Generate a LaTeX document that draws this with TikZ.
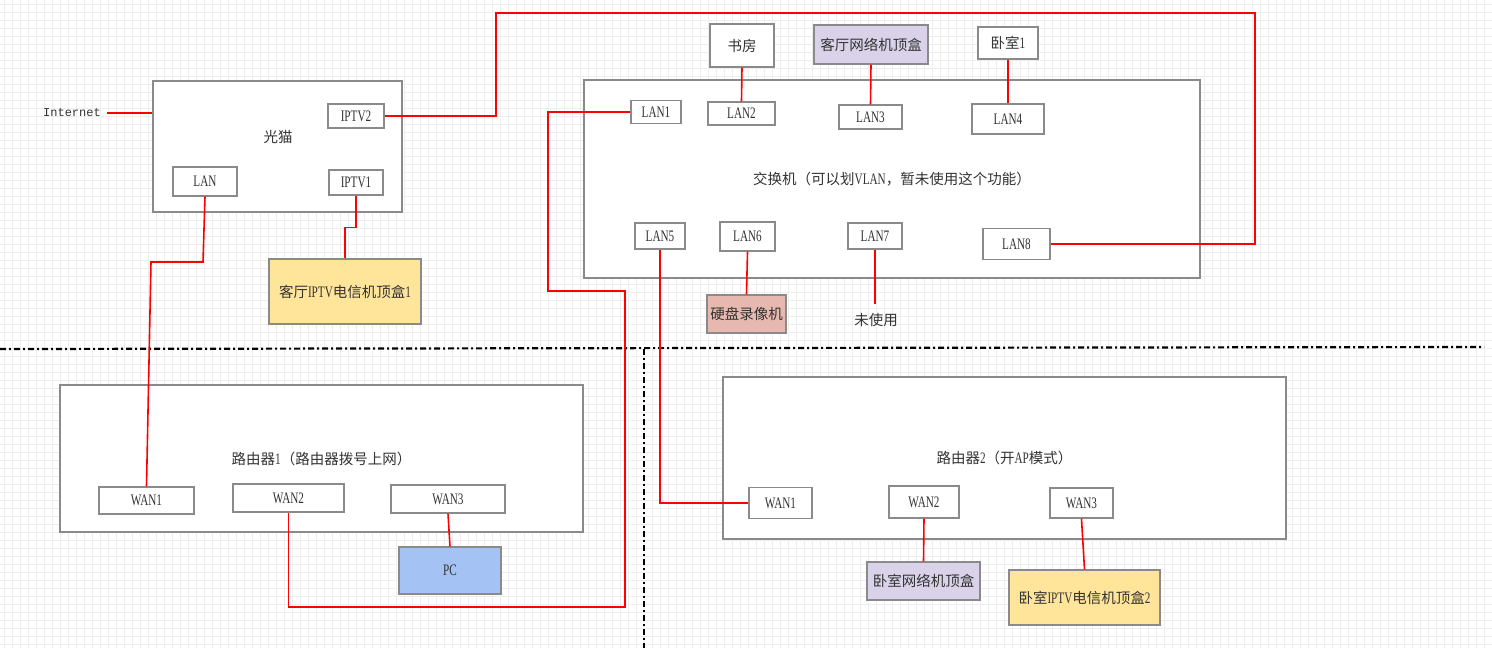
\documentclass[tikz,border=0pt]{standalone}
\usepackage{fontspec}
\setmainfont{Liberation Serif}
\newfontfamily\cjk{Noto Sans CJK SC}
\newfontfamily\latc[FakeStretch=0.7]{Liberation Serif}
\newfontfamily\monof{Liberation Mono}
\newcommand\zh[1]{{\fontsize{14.5}{17}\selectfont\cjk #1}}
\definecolor{boxgray}{HTML}{8A8A8A}
\definecolor{txt}{HTML}{333333}
\definecolor{wirered}{HTML}{FF0000}
\definecolor{ylw}{HTML}{FFE599}
\definecolor{lav}{HTML}{D9D2E9}
\definecolor{pnk}{HTML}{E6B8AF}
\definecolor{blu}{HTML}{A4C2F4}
\definecolor{gridc}{HTML}{EEEEEE}
\begin{document}
\begin{tikzpicture}[x=1pt,y=-1pt,
  box/.style={draw=boxgray, line width=1.3pt, fill=white, inner sep=0pt, text=txt,
    font=\fontsize{16}{18}\selectfont\latc},
  dev/.style 2 args={box, minimum width=#1pt, minimum height=#2pt},
  lbl/.style={inner sep=0pt, text=txt, font=\fontsize{16}{18}\selectfont\latc},
  wire/.style={draw=wirered, line width=1.6pt},
  zone/.style={draw=black, line width=2.2pt, dash pattern=on 6pt off 3pt on 2pt off 3pt}
]
\useasboundingbox (0,0) rectangle (1492,648);
\fill[white] (0,0) rectangle (1492,648);
\foreach \x in {4,12,...,1492} \draw[gridc, line width=0.9pt] (\x,0) -- (\x,648);
\foreach \y in {4,12,...,648} \draw[gridc, line width=0.9pt] (0,\y) -- (1492,\y);

% zone separators
\draw[zone] (0,349) -- (1484,347);
\draw[zone] (644,349) -- (644,648);

% modem
\node[dev={249}{131}] (modem) at (277.5,146.5) {};
\node[lbl] (modemlbl) at (278,137) {\zh{光猫}};
\node[dev={56}{24}] (iptv2) at (356,116) {IPTV2};
\node[dev={64}{29}] (mlan) at (205,181.5) {LAN};
\node[dev={54}{25}] (iptv1) at (356,182.5) {IPTV1};
\node[dev={152}{65}, fill=ylw] (stb1) at (345,291.5) {\zh{客厅}IPTV\zh{电信机顶盒}1};
\node[inner sep=0pt, text=txt, font=\fontsize{12}{14}\selectfont\monof] (internet) at (72,113) {Internet};

% switch
\node[dev={616}{198}] (switch) at (892,179) {\zh{交换机（可以划}VLAN\zh{，暂未使用这个功能）}};
\node[dev={64}{43}] (study) at (742,45.5) {\zh{书房}};
\node[dev={114}{39}, fill=lav] (lrstb) at (871,44.5) {\zh{客厅网络机顶盒}};
\node[dev={60}{32}] (bed1) at (1008,43) {\zh{卧室}1};
\node[dev={50}{23}] (lan1) at (656,112) {LAN1};
\node[dev={67}{23}] (lan2) at (741.5,113.5) {LAN2};
\node[dev={63}{24}] (lan3) at (870.5,117) {LAN3};
\node[dev={72}{30}] (lan4) at (1008,119) {LAN4};
\node[dev={50}{26}] (lan5) at (660,236) {LAN5};
\node[dev={55}{29}] (lan6) at (747.5,236.5) {LAN6};
\node[dev={54}{26}] (lan7) at (875,236) {LAN7};
\node[dev={67}{31}] (lan8) at (1016.5,244) {LAN8};
\node[dev={79}{38}, fill=pnk] (nvr) at (746.5,314) {\zh{硬盘录像机}};
\coordinate (unusedend) at (875,304);
\node[lbl] (unused) at (876,320) {\zh{未使用}};

% router 1
\node[dev={523}{147}] (r1) at (321.5,458.5) {\zh{路由器}1\zh{（路由器拨号上网）}};
\node[dev={95}{27}] (r1w1) at (146.5,500.5) {WAN1};
\node[dev={111}{28}] (r1w2) at (288.5,498) {WAN2};
\node[dev={114}{28}] (r1w3) at (448,499) {WAN3};
\node[dev={102}{47}, fill=blu] (pc) at (450,570.5) {PC};

% router 2
\node[dev={563}{162}] (r2) at (1004.5,458) {\zh{路由器}2\zh{（开}AP\zh{模式）}};
\node[dev={63}{31}] (r2w1) at (780.5,503) {WAN1};
\node[dev={70}{32}] (r2w2) at (924,502) {WAN2};
\node[dev={63}{30}] (r2w3) at (1081.5,503) {WAN3};
\node[dev={113}{38}, fill=lav] (bedstb) at (923.5,581) {\zh{卧室网络机顶盒}};
\node[dev={151}{55}, fill=ylw] (bediptv) at (1084.5,597.5) {\zh{卧室}IPTV\zh{电信机顶盒}2};

% connectors
\draw[wire] ([xshift=6pt]internet.east) -- (internet.east -| modem.west);
\draw[wire] (iptv2.east) -| (496,13) -| (1255,244) -- (lan8.east);
\draw[wire] (mlan.south) -- (203,262) -- (151,262) -- (r1w1.north);
\draw[wire] (iptv1.south) -- ++(0,32) -| (stb1.north);
\draw[wire] (lan1.west) -| (548,291) -| (625,607) -| (r1w2.south);
\draw[wire] (study.south) -- (lan2.north);
\draw[wire] (lrstb.south) -- (lan3.north);
\draw[wire] (bed1.south) -- (lan4.north);
\draw[wire] (lan6.south) -- (nvr.north);
\draw[wire] (lan7.south) -- (unusedend);
\draw[wire] (lan5.south) |- (r2w1.west);
\draw[wire] (r1w3.south) -- (pc.north);
\draw[wire] (r2w2.south) -- (bedstb.north);
\draw[wire] (r2w3.south) -- (bediptv.north);
\end{tikzpicture}
\end{document}
